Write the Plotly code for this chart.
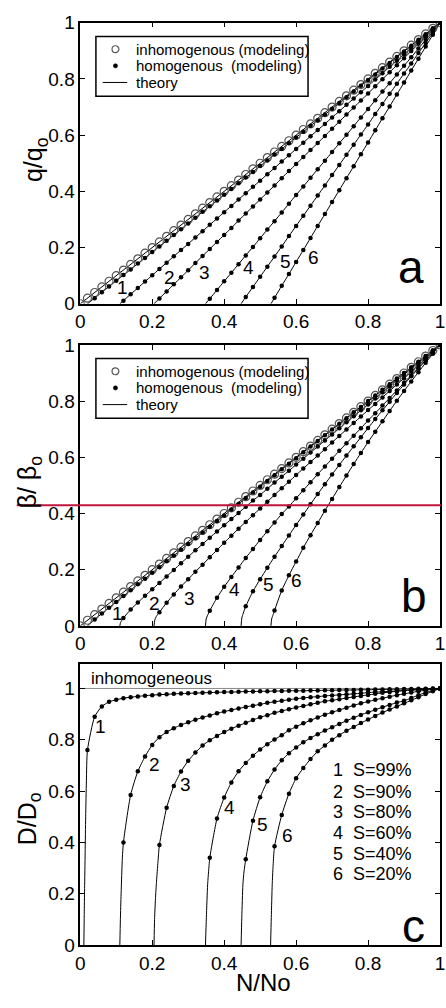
import plotly.graph_objects as go

# ---------------- data ----------------
N_GRID = [0.00, 0.02, 0.04, 0.06, 0.08, 0.10, 0.12, 0.14, 0.16, 0.18, 0.20, 0.22, 0.24,
          0.26, 0.28, 0.30, 0.32, 0.34, 0.36, 0.38, 0.40, 0.42, 0.44, 0.46, 0.48, 0.50,
          0.52, 0.54, 0.56, 0.58, 0.60, 0.62, 0.64, 0.66, 0.68, 0.70, 0.72, 0.74, 0.76,
          0.78, 0.80, 0.82, 0.84, 0.86, 0.88, 0.90, 0.92, 0.94, 0.96, 0.98, 1.00]

# inhomogeneous: q/qo = beta/beta0 = N/No
INHOM = [0.00, 0.02, 0.04, 0.06, 0.08, 0.10, 0.12, 0.14, 0.16, 0.18, 0.20, 0.22, 0.24,
         0.26, 0.28, 0.30, 0.32, 0.34, 0.36, 0.38, 0.40, 0.42, 0.44, 0.46, 0.48, 0.50,
         0.52, 0.54, 0.56, 0.58, 0.60, 0.62, 0.64, 0.66, 0.68, 0.70, 0.72, 0.74, 0.76,
         0.78, 0.80, 0.82, 0.84, 0.86, 0.88, 0.90, 0.92, 0.94, 0.96, 0.98, 1.00]

CURVE_IDS = ["1", "2", "3", "4", "5", "6"]
S_LABELS = ["S=99%", "S=90%", "S=80%", "S=60%", "S=40%", "S=20%"]
LEGEND_TEXT = ["inhomogenous (modeling)", "homogenous\u00a0\u00a0(modeling)", "theory"]

# index in N_GRID of the first modelled point of each curve
START_AB = [2, 6, 11, 18, 23, 27]
START_C = [1, 6, 11, 18, 23, 27]

# panel a: q/qo
A_START_X = [0.02, 0.11, 0.205, 0.348, 0.447, 0.53]
Q1 = [0.020, 0.041, 0.061, 0.082, 0.102, 0.122, 0.143, 0.163, 0.184, 0.204, 0.224, 0.245,
      0.265, 0.286, 0.306, 0.327, 0.347, 0.367, 0.388, 0.408, 0.429, 0.449, 0.469, 0.490,
      0.510, 0.531, 0.551, 0.571, 0.592, 0.612, 0.633, 0.653, 0.673, 0.694, 0.714, 0.735,
      0.755, 0.776, 0.796, 0.816, 0.837, 0.857, 0.878, 0.898, 0.918, 0.939, 0.959, 0.980, 1.000]
Q2 = [0.011, 0.034, 0.056, 0.079, 0.101, 0.124, 0.146, 0.169, 0.191, 0.213, 0.236, 0.258,
      0.281, 0.303, 0.326, 0.348, 0.371, 0.393, 0.416, 0.438, 0.461, 0.483, 0.506, 0.528,
      0.551, 0.573, 0.596, 0.618, 0.640, 0.663, 0.685, 0.708, 0.730, 0.753, 0.775, 0.798,
      0.820, 0.843, 0.865, 0.888, 0.910, 0.933, 0.955, 0.978, 1.000]
Q3 = [0.019, 0.044, 0.069, 0.094, 0.119, 0.145, 0.170, 0.195, 0.220, 0.245, 0.270, 0.296,
      0.321, 0.346, 0.371, 0.396, 0.421, 0.447, 0.472, 0.497, 0.522, 0.547, 0.572, 0.597,
      0.623, 0.648, 0.673, 0.698, 0.723, 0.748, 0.774, 0.799, 0.824, 0.849, 0.874, 0.899,
      0.925, 0.950, 0.975, 1.000]
Q4 = [0.018, 0.049, 0.080, 0.110, 0.141, 0.172, 0.202, 0.233, 0.264, 0.294, 0.325, 0.356,
      0.387, 0.417, 0.448, 0.479, 0.509, 0.540, 0.571, 0.601, 0.632, 0.663, 0.693, 0.724,
      0.755, 0.785, 0.816, 0.847, 0.877, 0.908, 0.939, 0.969, 1.000]
Q5 = [0.024, 0.060, 0.096, 0.132, 0.168, 0.204, 0.241, 0.277, 0.313, 0.349, 0.385, 0.421,
      0.458, 0.494, 0.530, 0.566, 0.602, 0.638, 0.675, 0.711, 0.747, 0.783, 0.819, 0.855,
      0.892, 0.928, 0.964, 1.000]
Q6 = [0.021, 0.064, 0.106, 0.149, 0.191, 0.234, 0.277, 0.319, 0.362, 0.404, 0.447, 0.489,
      0.532, 0.574, 0.617, 0.660, 0.702, 0.745, 0.787, 0.830, 0.872, 0.915, 0.957, 1.000]

# panel b: beta/beta0
B_START_X = [[0.02], [0.11, 0.112], [0.205, 0.207, 0.211], [0.348, 0.350, 0.354],
             [0.447, 0.449, 0.453], [0.530, 0.532, 0.536]]
B_START_Y = [[0.0], [0.0, 0.012], [0.0, 0.020, 0.033], [0.0, 0.025, 0.038],
             [0.0, 0.028, 0.045], [0.0, 0.025, 0.040]]
B1 = [0.023, 0.044, 0.065, 0.085, 0.106, 0.127, 0.148, 0.168, 0.189, 0.209, 0.230, 0.250,
      0.271, 0.291, 0.312, 0.332, 0.353, 0.373, 0.393, 0.414, 0.434, 0.455, 0.475, 0.495,
      0.516, 0.536, 0.557, 0.577, 0.597, 0.618, 0.638, 0.658, 0.678, 0.699, 0.719, 0.739,
      0.760, 0.779, 0.800, 0.820, 0.840, 0.860, 0.880, 0.900, 0.920, 0.940, 0.960, 0.980, 1.000]
B2 = [0.028, 0.058, 0.083, 0.107, 0.130, 0.153, 0.176, 0.199, 0.223, 0.246, 0.269, 0.291,
      0.314, 0.336, 0.358, 0.380, 0.402, 0.424, 0.446, 0.466, 0.488, 0.510, 0.531, 0.552,
      0.574, 0.595, 0.617, 0.638, 0.660, 0.681, 0.703, 0.725, 0.746, 0.767, 0.788, 0.809,
      0.831, 0.852, 0.874, 0.895, 0.916, 0.937, 0.958, 0.980, 1.000]
B3 = [0.049, 0.082, 0.112, 0.140, 0.166, 0.193, 0.218, 0.244, 0.270, 0.296, 0.321, 0.346,
      0.370, 0.394, 0.418, 0.442, 0.466, 0.490, 0.513, 0.537, 0.560, 0.583, 0.606, 0.629,
      0.653, 0.676, 0.699, 0.722, 0.745, 0.768, 0.790, 0.813, 0.836, 0.859, 0.881, 0.905,
      0.928, 0.952, 0.976, 1.000]
B4 = [0.054, 0.100, 0.139, 0.174, 0.208, 0.242, 0.274, 0.306, 0.337, 0.368, 0.398, 0.425,
      0.454, 0.483, 0.511, 0.540, 0.567, 0.595, 0.623, 0.650, 0.677, 0.703, 0.731, 0.757,
      0.784, 0.811, 0.838, 0.865, 0.892, 0.918, 0.945, 0.972, 1.000]
B5 = [0.070, 0.123, 0.166, 0.207, 0.246, 0.284, 0.322, 0.359, 0.396, 0.433, 0.469, 0.504,
      0.539, 0.573, 0.606, 0.639, 0.671, 0.704, 0.736, 0.767, 0.798, 0.829, 0.859, 0.888,
      0.916, 0.945, 0.973, 1.000]
B6 = [0.055, 0.126, 0.180, 0.229, 0.278, 0.323, 0.366, 0.410, 0.452, 0.494, 0.535, 0.576,
      0.615, 0.654, 0.691, 0.728, 0.765, 0.801, 0.836, 0.870, 0.903, 0.936, 0.968, 1.000]

# panel c: D/Do
INHOM_D_X = [0.0, 1.0]
INHOM_D = [1.0, 1.0]
C_START_X = [[0.010, 0.011, 0.012, 0.0135, 0.015, 0.017], [0.110, 0.1115, 0.1135, 0.117],
             [0.205, 0.2065, 0.209, 0.212, 0.216], [0.348, 0.3505, 0.354, 0.358],
             [0.447, 0.449, 0.452, 0.455], [0.529, 0.531, 0.5335, 0.536]]
C_START_Y = [[0.0, 0.12, 0.22, 0.36, 0.50, 0.64], [0.0, 0.10, 0.20, 0.34],
             [0.0, 0.10, 0.18, 0.25, 0.325], [0.0, 0.108, 0.235, 0.31],
             [0.0, 0.108, 0.235, 0.285], [0.0, 0.108, 0.235, 0.31]]
D1 = [0.760, 0.890, 0.930, 0.948, 0.956, 0.962, 0.966, 0.969, 0.972, 0.974, 0.976, 0.977,
      0.979, 0.980, 0.981, 0.982, 0.983, 0.984, 0.985, 0.986, 0.986, 0.987, 0.988, 0.988,
      0.989, 0.989, 0.990, 0.990, 0.991, 0.991, 0.991, 0.992, 0.992, 0.993, 0.993, 0.994,
      0.994, 0.994, 0.995, 0.995, 0.996, 0.996, 0.997, 0.997, 0.998, 0.998, 0.999, 0.999,
      1.000, 1.000]
D2 = [0.400, 0.585, 0.677, 0.735, 0.780, 0.810, 0.830, 0.845, 0.858, 0.868, 0.878, 0.887,
      0.895, 0.903, 0.910, 0.916, 0.922, 0.928, 0.933, 0.938, 0.944, 0.948, 0.952, 0.956,
      0.960, 0.963, 0.966, 0.968, 0.971, 0.973, 0.975, 0.977, 0.979, 0.981, 0.984, 0.986,
      0.987, 0.989, 0.990, 0.992, 0.994, 0.995, 0.997, 0.998, 1.000]
D3 = [0.390, 0.535, 0.620, 0.676, 0.718, 0.750, 0.778, 0.798, 0.815, 0.830, 0.843, 0.855,
      0.866, 0.877, 0.888, 0.896, 0.905, 0.912, 0.919, 0.926, 0.932, 0.938, 0.944, 0.950,
      0.954, 0.958, 0.963, 0.967, 0.971, 0.975, 0.979, 0.983, 0.986, 0.989, 0.992, 0.994,
      0.996, 0.998, 0.999, 1.000]
D4 = [0.340, 0.493, 0.575, 0.634, 0.677, 0.710, 0.738, 0.762, 0.783, 0.801, 0.818, 0.837,
      0.851, 0.864, 0.876, 0.887, 0.898, 0.907, 0.916, 0.925, 0.934, 0.942, 0.949, 0.956,
      0.962, 0.968, 0.974, 0.979, 0.984, 0.989, 0.993, 0.997, 1.000]
D5 = [0.335, 0.485, 0.576, 0.638, 0.684, 0.720, 0.748, 0.770, 0.790, 0.807, 0.822, 0.836,
      0.849, 0.862, 0.874, 0.886, 0.897, 0.907, 0.917, 0.927, 0.936, 0.945, 0.952, 0.963,
      0.974, 0.984, 0.992, 1.000]
D6 = [0.385, 0.507, 0.590, 0.650, 0.690, 0.725, 0.755, 0.778, 0.800, 0.818, 0.835, 0.850,
      0.865, 0.879, 0.893, 0.906, 0.918, 0.930, 0.942, 0.954, 0.966, 0.978, 0.989, 1.000]

Q_ALL = [Q1, Q2, Q3, Q4, Q5, Q6]
B_ALL = [B1, B2, B3, B4, B5, B6]
D_ALL = [D1, D2, D3, D4, D5, D6]

# curve-number label positions (data coordinates)
LAB_A = [(0.117, 0.059), (0.247, 0.094), (0.345, 0.111), (0.467, 0.129), (0.571, 0.150), (0.647, 0.164)]
LAB_B = [(0.103, 0.045), (0.207, 0.080), (0.305, 0.099), (0.429, 0.130), (0.524, 0.147), (0.600, 0.161)]
LAB_C = [(0.056, 0.852), (0.206, 0.703), (0.293, 0.627), (0.414, 0.538), (0.506, 0.471), (0.575, 0.426)]
S_LEG_Y = [0.681, 0.598, 0.519, 0.436, 0.356, 0.276]

# ---------------- figure ----------------
FONT = "Liberation Sans, Arial, sans-serif"
W, H = 446, 1008
XDOM = [77 / W, 445 / W]
YDOM_A = [1 - 300 / H, 1 - 13 / H]
YDOM_B = [1 - 629 / H, 1 - 342 / H]
YDOM_C = [1 - 955 / H, 1 - 668 / H]

LINE_KW = dict(color="black", width=1)
DOT_KW = dict(color="black", size=4.5)
CIRC_COLOR = "#555555"
CIRC_KW = dict(symbol="circle-open", color=CIRC_COLOR, size=8, line=dict(width=1.2, color=CIRC_COLOR))

fig = go.Figure()


def add_lines(xa, ya, curves_x, curves_y, inhom_x, inhom_y, inhom_line):
    fig.add_trace(go.Scatter(x=inhom_x, y=inhom_y, mode="lines", line=inhom_line,
                             xaxis=xa, yaxis=ya, showlegend=False, hoverinfo="skip"))
    for (lx, ly) in zip(curves_x, curves_y):
        fig.add_trace(go.Scatter(x=lx, y=ly, mode="lines",
                                 line=dict(LINE_KW, shape="spline", smoothing=0.6),
                                 xaxis=xa, yaxis=ya, showlegend=False, hoverinfo="skip"))


# ---- panel a ----
a_lines_x = [[A_START_X[k]] + N_GRID[START_AB[k]:] for k in range(6)]
a_lines_y = [[0.0] + Q_ALL[k] for k in range(6)]
add_lines("x", "y", a_lines_x, a_lines_y, N_GRID, INHOM, LINE_KW)
fig.add_trace(go.Scatter(x=N_GRID, y=INHOM, mode="markers", marker=CIRC_KW, xaxis="x", yaxis="y",
                         showlegend=False))
for k in range(6):
    fig.add_trace(go.Scatter(x=N_GRID[START_AB[k]:], y=Q_ALL[k], mode="markers", marker=DOT_KW,
                             xaxis="x", yaxis="y", showlegend=False))

# ---- panel b ----
b_lines_x = [B_START_X[k] + N_GRID[START_AB[k]:] for k in range(6)]
b_lines_y = [B_START_Y[k] + B_ALL[k] for k in range(6)]
add_lines("x2", "y2", b_lines_x, b_lines_y, N_GRID, INHOM, LINE_KW)
fig.add_trace(go.Scatter(x=N_GRID, y=INHOM, mode="markers", marker=CIRC_KW, xaxis="x2", yaxis="y2",
                         showlegend=False))
for k in range(6):
    fig.add_trace(go.Scatter(x=N_GRID[START_AB[k]:], y=B_ALL[k], mode="markers", marker=DOT_KW,
                             xaxis="x2", yaxis="y2", showlegend=False))

# ---- panel c ----
c_lines_x = [C_START_X[k] + N_GRID[START_C[k]:] for k in range(6)]
c_lines_y = [C_START_Y[k] + D_ALL[k] for k in range(6)]
add_lines("x3", "y3", c_lines_x, c_lines_y, INHOM_D_X, INHOM_D, dict(color="#888888", width=1))
for k in range(6):
    fig.add_trace(go.Scatter(x=N_GRID[START_C[k]:], y=D_ALL[k], mode="markers", marker=DOT_KW,
                             xaxis="x3", yaxis="y3", showlegend=False))

TICKS = [0, 0.2, 0.4, 0.6, 0.8, 1]


def axis(domain, anchor, rng, is_x):
    d = dict(domain=domain, anchor=anchor, range=rng, showline=True, linecolor="black",
             linewidth=1.5, mirror="ticks", ticks="inside", ticklen=5, tickwidth=1,
             tickcolor="black", showgrid=False, zeroline=False, tickvals=TICKS,
             tickfont=dict(family=FONT, size=19, color="black"))
    if is_x:
        d["ticklabeloverflow"] = "allow"
    return d


fig.update_layout(
    width=W, height=H, margin=dict(l=0, r=0, t=0, b=0),
    paper_bgcolor="white", plot_bgcolor="white",
    font=dict(family=FONT, color="black"), showlegend=False,
    xaxis=axis(XDOM, "y", [0, 1], True), yaxis=axis(YDOM_A, "x", [0, 1], False),
    xaxis2=axis(XDOM, "y2", [0, 1], True), yaxis2=axis(YDOM_B, "x2", [0, 1], False),
    xaxis3=axis(XDOM, "y3", [0, 1], True), yaxis3=axis(YDOM_C, "x3", [0, 1.095], False),
)


def px(x):
    return x / W


def py(y):
    return 1 - y / H


ann = []
shapes = []

# legend boxes for panels a and b (drawn by hand to match the reference layout)
for top in (27, 356):
    shapes.append(dict(type="rect", xref="paper", yref="paper", x0=px(93), x1=px(310),
                       y0=py(top + 61), y1=py(top), fillcolor="white",
                       line=dict(color="black", width=1.5)))
    rows = [top + 13, top + 30, top + 47]
    # open circle
    shapes.append(dict(type="circle", xref="paper", yref="paper", x0=px(109.5), x1=px(116.5),
                       y0=py(rows[0] + 3.5), y1=py(rows[0] - 3.5),
                       line=dict(color=CIRC_COLOR, width=1.2)))
    # filled dot
    shapes.append(dict(type="circle", xref="paper", yref="paper", x0=px(110.8), x1=px(115.2),
                       y0=py(rows[1] + 2.2), y1=py(rows[1] - 2.2), fillcolor="black",
                       line=dict(color="black", width=0.5)))
    # line
    shapes.append(dict(type="line", xref="paper", yref="paper", x0=px(100), x1=px(125),
                       y0=py(rows[2]), y1=py(rows[2]), line=dict(color="black", width=1)))
    for txt, ry in zip(LEGEND_TEXT, rows):
        ann.append(dict(text=txt, xref="paper", yref="paper", x=px(132), y=py(ry),
                        xanchor="left", yanchor="middle", showarrow=False,
                        font=dict(family=FONT, size=15, color="black")))

# axis titles
titles = [("q/q<sub>o</sub>", 31, 153, -90, "middle", 25), ("\u03b2/ \u03b2<sub>o</sub>", 25, 482, -90, "middle", 25),
          ("D/D<sub>o</sub>", 24, 826, -90, "middle", 25), ("N/No", 264, 1008, 0, "bottom", 24)]
for txt, tx, ty, ang, yanc, fs in titles:
    ann.append(dict(text=txt, xref="paper", yref="paper", x=px(tx), y=py(ty), textangle=ang,
                    xanchor="center", yanchor=yanc, showarrow=False, borderpad=0,
                    font=dict(family=FONT, size=fs, color="black")))

# panel letters
for txt, xr, yr, lx, ly in [("a", "x", "y", 0.918, 0.129), ("b", "x2", "y2", 0.929, 0.108),
                            ("c", "x3", "y3", 0.925, 0.0725)]:
    ann.append(dict(text=txt, xref=xr, yref=yr, x=lx, y=ly, xanchor="center", yanchor="middle",
                    showarrow=False, font=dict(family=FONT, size=46, color="black")))

# curve numbers
for labs, xr, yr in [(LAB_A, "x", "y"), (LAB_B, "x2", "y2"), (LAB_C, "x3", "y3")]:
    for cid, (lx, ly) in zip(CURVE_IDS, labs):
        ann.append(dict(text=cid, xref=xr, yref=yr, x=lx, y=ly, xanchor="center", yanchor="middle",
                        showarrow=False, font=dict(family=FONT, size=19, color="black")))

# panel c key
for cid, s, yy in zip(CURVE_IDS, S_LABELS, S_LEG_Y):
    ann.append(dict(text=cid + "\u00a0\u00a0" + s, xref="x3", yref="y3", x=0.697, y=yy,
                    xanchor="left", yanchor="middle", showarrow=False,
                    font=dict(family=FONT, size=18, color="black")))
ann.append(dict(text="inhomogeneous", xref="x3", yref="y3", x=0.0245, y=1.037, xanchor="left",
                yanchor="middle", showarrow=False, font=dict(family=FONT, size=17, color="black")))

# red marker line across panel b
shapes.append(dict(type="line", xref="paper", yref="paper", x0=px(12), x1=1, y0=py(505.7),
                   y1=py(505.7), line=dict(color="#C0143C", width=2)))

fig.update_layout(annotations=ann, shapes=shapes)

fig.write_html("out.html")
